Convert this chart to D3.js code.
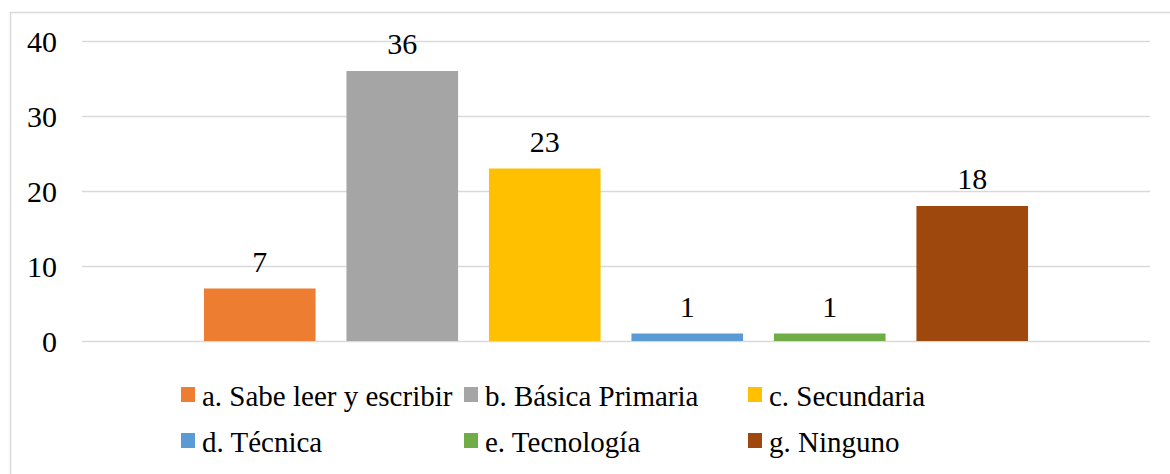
<!DOCTYPE html>
<html>
<head>
<meta charset="utf-8">
<script src="https://cdn.jsdelivr.net/npm/d3@7"></script>
</head>
<body style="margin:0">
<svg id="chart" width="1170" height="474"></svg>
<script>
const categories = ["a. Sabe leer y escribir", "b. Básica Primaria", "c. Secundaria", "d. Técnica", "e. Tecnología", "g. Ninguno"];
const values = [7, 36, 23, 1, 1, 18];
const colors = ["#ED7D31", "#A5A5A5", "#FFC000", "#5B9BD5", "#70AD47", "#9E480E"];
const yTicks = [0, 10, 20, 30, 40];
const group = [""];

const FONT = "Liberation Serif";

const svg = d3.select("#chart");
const W = 1170, H = 474;

// chart border
svg.append("rect")
  .attr("x", 10.5).attr("y", 12.5)
  .attr("width", W + 10).attr("height", H + 10)
  .attr("fill", "none").attr("stroke", "#d9d9d9").attr("stroke-width", 1.5);

const plot = { left: 82, right: 1150, top: 41, bottom: 341 };

const y = d3.scaleLinear().domain([0, 40]).range([plot.bottom, plot.top]);
const x0 = d3.scaleBand().domain(group).range([plot.left, plot.right]).paddingInner(0.1108).paddingOuter(0.1108);
const x1 = d3.scaleBand().domain(categories).range([0, x0.bandwidth()]).paddingInner(0.2168).paddingOuter(0.1084);

// gridlines + tick labels
const yAxis = d3.axisLeft(y).tickValues(yTicks).tickSize(-(plot.right - plot.left)).tickPadding(25).tickFormat(d3.format("d"));
const gAxis = svg.append("g").attr("transform", `translate(${plot.left},0)`).call(yAxis);
gAxis.attr("font-family", FONT).attr("font-size", 30);
gAxis.select(".domain").remove();
gAxis.selectAll(".tick line").attr("stroke", "#d9d9d9").attr("stroke-width", 1.5);
gAxis.selectAll(".tick text")
  .attr("font-family", FONT).attr("font-size", 30)
  .attr("fill", "#000").attr("dy", "0.35em");

// bars
const g = svg.append("g").attr("transform", `translate(${x0("")},0)`);
g.selectAll("rect.bar").data(categories).join("rect")
  .attr("class", "bar")
  .attr("x", d => x1(d))
  .attr("y", (d, i) => y(values[i]))
  .attr("width", x1.bandwidth())
  .attr("height", (d, i) => y(0) - y(values[i]))
  .attr("fill", (d, i) => colors[i]);

g.selectAll("text.lbl").data(categories).join("text")
  .attr("class", "lbl")
  .attr("x", d => x1(d) + x1.bandwidth() / 2)
  .attr("y", (d, i) => y(values[i]) - 17)
  .attr("text-anchor", "middle")
  .attr("font-family", FONT).attr("font-size", 30)
  .attr("fill", "#000")
  .text((d, i) => values[i]);

// legend
const legendCols = [181, 464, 748];
const legendRows = [406, 452];
const lg = svg.append("g");
categories.forEach((c, i) => {
  const cx = legendCols[i % 3], by = legendRows[Math.floor(i / 3)];
  lg.append("rect").attr("x", cx).attr("y", by - 19).attr("width", 14).attr("height", 15).attr("fill", colors[i]);
  lg.append("text").attr("x", cx + 21).attr("y", by)
    .attr("font-family", FONT).attr("font-size", 29)
    .attr("fill", "#000").text(c);
});
</script>
</body>
</html>
